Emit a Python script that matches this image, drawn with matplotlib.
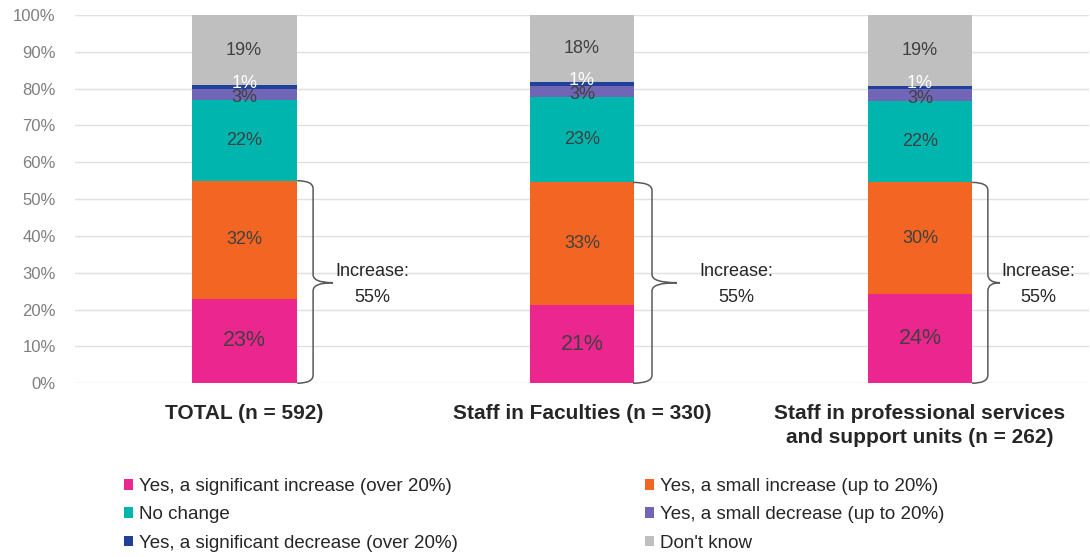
import numpy as np
import matplotlib.pyplot as plt
from matplotlib.path import Path
from matplotlib.patches import PathPatch

# categories and survey answers (% of respondents)
groups = ['TOTAL (n = 592)', 'Staff in Faculties (n = 330)',
          'Staff in professional services\nand support units (n = 262)']
answers = ['Yes, a significant increase (over 20%)', 'Yes, a small increase (up to 20%)',
           'No change', 'Yes, a small decrease (up to 20%)',
           'Yes, a significant decrease (over 20%)', "Don't know"]
sig_inc = [23, 21, 24]
small_inc = [32, 33, 30]
no_change = [22, 23, 22]
small_dec = [3, 3, 3]
sig_dec = [1, 1, 1]
dont_know = [19, 18, 19]
increase_total = [55, 55, 55]

colors = ['#EC268F', '#F26522', '#00B5AD', '#7166B5', '#21409A', '#BFBFBF']
label_colors = ['#404040', '#404040', '#404040', '#404040', 'white', '#404040']
label_sizes = [15.5, 13, 13, 13, 13, 13]
label_nudge = [0, 0, 0, -1.0, 1.0, 0]   # small vertical nudge for the thin segments

series = np.array([sig_inc, small_inc, no_change, small_dec, sig_dec, dont_know], dtype=float)
shares = series / series.sum(axis=0) * 100   # 100% stacked

plt.rcParams['font.family'] = ['Liberation Sans', 'DejaVu Sans']
fig = plt.figure(figsize=(10.9, 5.57), dpi=100)
ax = fig.add_axes([0.069, 0.312, 0.93, 0.661])

x = np.arange(len(groups))
w = 0.31
bottom = np.zeros(len(groups))
handles = []
for i in range(len(answers)):
    b = ax.bar(x, shares[i], w, bottom=bottom, color=colors[i], label=answers[i], zorder=2)
    handles.append(b)
    for j in range(len(groups)):
        ax.text(x[j], bottom[j] + shares[i][j] / 2 + label_nudge[i], f'{series[i][j]:.0f}%',
                ha='center', va='center', color=label_colors[i],
                fontsize=label_sizes[i], zorder=3)
    bottom += shares[i]

# curly braces for the "Increase" share
edge = [0.157, 0.151, 0.154]
vert = [0.204, 0.207, 0.201]
tip = [0.263, 0.281, 0.237]
txt = [0.38, 0.456, 0.35]
mid = 27.3
r = 2.2
for j in range(len(groups)):
    top = shares[0][j] + shares[1][j]
    e, v, t = x[j] + edge[j], x[j] + vert[j], x[j] + tip[j]
    verts = [(e, top), (v, top), (v, top - r), (v, mid + r), (v, mid), (t, mid),
             (v, mid), (v, mid - r), (v, r), (v, 0), (e, 0)]
    codes = [Path.MOVETO, Path.CURVE3, Path.CURVE3, Path.LINETO, Path.CURVE3, Path.CURVE3,
             Path.CURVE3, Path.CURVE3, Path.LINETO, Path.CURVE3, Path.CURVE3]
    ax.add_patch(PathPatch(Path(verts, codes), fill=False, edgecolor='#595959', lw=1.1,
                           zorder=3, clip_on=False))
    ax.text(x[j] + txt[j], mid - 0.5, f'Increase:\n{increase_total[j]}%', ha='center', va='center',
            fontsize=13, color='#262626', linespacing=1.7)

ax.set_xlim(-0.5, 2.5)
ax.set_ylim(0, 100)
ax.set_yticks(np.arange(0, 101, 10))
ax.set_yticklabels([f'{v}%' for v in range(0, 101, 10)])
ax.set_xticks(x)
ax.set_xticklabels(groups, fontsize=15, fontweight='bold', color='#262626', linespacing=1.3)
ax.tick_params(axis='y', labelsize=12, labelcolor='#7F7F7F', length=0, pad=14)
ax.tick_params(axis='x', length=0, pad=15)
ax.grid(axis='y', color='#E0E0E0', lw=1, zorder=0)
for s in ax.spines.values():
    s.set_visible(False)

# legend order: row-wise across two columns
order = [0, 2, 4, 1, 3, 5]
fig.legend([handles[k] for k in order], [answers[k] for k in order], ncol=2,
           loc='upper left', bbox_to_anchor=(0.098, 0.172), frameon=False,
           fontsize=13.5, labelcolor='#262626', handlelength=0.5, handleheight=0.5,
           handletextpad=0.3, columnspacing=10.0, labelspacing=0.6)

fig.savefig('out.png', dpi=100)
